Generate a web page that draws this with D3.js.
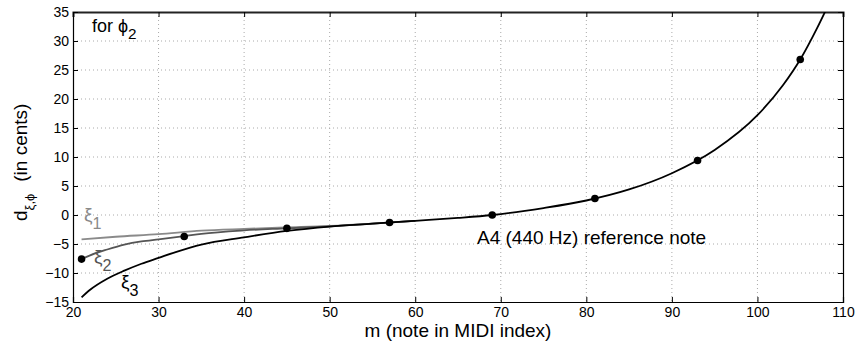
<!DOCTYPE html>
<html><head><meta charset="utf-8">
<script src="https://cdn.jsdelivr.net/npm/d3@7"></script>
<style>body{margin:0;background:#fff}svg{display:block;font-family:"Liberation Sans",Arial,sans-serif}</style>
</head><body><svg id="c" width="858" height="344"></svg>
<script>
const xTicks = [20,30,40,50,60,70,80,90,100,110];
const yTicks = [-15,-10,-5,0,5,10,15,20,25,30,35];
// xi_3 curve (full range)
const xi3M = [21,22,24,26,28,30,32,35,40,45,50,55,60,65,69,75,80,85,90,95,100,103,105,107,109];
const xi3D = [-14.2,-12.9,-11.0,-9.6,-8.4,-7.4,-6.4,-5.1,-3.85,-2.75,-2.0,-1.5,-1.0,-0.5,0,1.2,2.5,4.4,7.2,11.2,17.2,22.4,26.8,32.3,38.5];
// xi_2 curve
const xi2M = [21,22,24,26,28,30,33,35,40,45,50,55,60];
const xi2D = [-7.6,-6.95,-5.95,-5.1,-4.55,-4.2,-3.65,-3.25,-2.65,-2.3,-1.95,-1.5,-1.0];
// xi_1 curve
const xi1M = [21,25,30,35,40,45,50,55,60];
const xi1D = [-4.2,-3.75,-3.3,-2.7,-2.4,-2.15,-1.9,-1.5,-1.0];
// marked notes
const dotM = [21,33,45,57,69,81,93,105];
const dotD = [-7.6,-3.7,-2.3,-1.3,0,2.85,9.4,26.8];

const svg = d3.select("#c");
const L=73, R=843, T=12, B=302;
const x = d3.scaleLinear().domain([20,110]).range([L,R]);
const y = d3.scaleLinear().domain([-15,35]).range([B,T]);

// grid
const g = svg.append("g");
g.selectAll(".gx").data(xTicks.slice(1,-1)).enter().append("line")
 .attr("x1",d=>x(d)).attr("x2",d=>x(d)).attr("y1",T).attr("y2",B)
 .attr("stroke","#aaa").attr("stroke-width",1).attr("stroke-dasharray","1,3");
g.selectAll(".gy").data(yTicks.slice(1,-1)).enter().append("line")
 .attr("y1",d=>y(d)).attr("y2",d=>y(d)).attr("x1",L).attr("x2",R)
 .attr("stroke","#aaa").attr("stroke-width",1).attr("stroke-dasharray","1,3");

// axes
const fs = 14;
const bx = svg.append("g").attr("transform",`translate(0,${B})`)
 .call(d3.axisBottom(x).tickValues(xTicks).tickSize(-5).tickPadding(5).tickFormat(d3.format("d")));
const tx = svg.append("g").attr("transform",`translate(0,${T})`)
 .call(d3.axisTop(x).tickValues(xTicks).tickSize(-5).tickFormat(""));
const ly = svg.append("g").attr("transform",`translate(${L},0)`)
 .call(d3.axisLeft(y).tickValues(yTicks).tickSize(-5).tickPadding(4).tickFormat(d=>d<0?"\u2212"+(-d):d));
const ry = svg.append("g").attr("transform",`translate(${R},0)`)
 .call(d3.axisRight(y).tickValues(yTicks).tickSize(-5).tickFormat(""));
[bx,tx,ly,ry].forEach(a=>{
  a.selectAll("path").attr("stroke","#000").attr("stroke-width",1.2);
  a.selectAll("line").attr("stroke","#000");
  a.selectAll("text").attr("font-size",fs).attr("fill","#000").attr("font-family","Liberation Sans, Arial, sans-serif");
});
tx.select("path").attr("stroke-width",2).attr("stroke","#222");

// clip
svg.append("clipPath").attr("id","cp").append("rect").attr("x",L).attr("y",T).attr("width",R-L).attr("height",B-T);

const line = d3.line().x(d=>x(d[0])).y(d=>y(d[1])).curve(d3.curveMonotoneX);
const cg = svg.append("g").attr("clip-path","url(#cp)");
cg.append("path").datum(d3.zip(xi1M,xi1D)).attr("d",line).attr("fill","none").attr("stroke","#8a8a8a").attr("stroke-width",1.8);
cg.append("path").datum(d3.zip(xi2M,xi2D)).attr("d",line).attr("fill","none").attr("stroke","#555").attr("stroke-width",1.8);
cg.append("path").datum(d3.zip(xi3M,xi3D)).attr("d",line).attr("fill","none").attr("stroke","#000").attr("stroke-width",1.8);
cg.selectAll(".dot").data(d3.zip(dotM,dotD)).enter().append("circle")
 .attr("cx",d=>x(d[0])).attr("cy",d=>y(d[1])).attr("r",3.8).attr("fill","#000");

// curve labels
function sub(xp,yp,main,s,col,size){
  const t = svg.append("text").attr("x",xp).attr("y",yp).attr("fill",col).attr("font-size",size);
  t.append("tspan").text(main);
  t.append("tspan").attr("dy",size*0.4).attr("font-size",size*0.85).text(s);
  return t;
}
sub(84,221,"\u03be","1","#8a8a8a",19);
sub(94,263,"\u03be","2","#555",19);
sub(121,288,"\u03be","3","#000",19);

// annotations
sub(92,32,"for \u03d5","2","#000",18);
svg.append("text").attr("x",477).attr("y",244).attr("font-size",19).attr("fill","#000").text("A4 (440 Hz) reference note");

// axis titles
svg.append("text").attr("x",458).attr("y",337).attr("text-anchor","middle").attr("font-size",19).text("m (note in MIDI index)");
const yl = svg.append("text").attr("transform","translate(27,221) rotate(-90)").attr("font-size",19);
yl.append("tspan").text("d");
yl.append("tspan").attr("dy",7).attr("font-size",13).text("\u03be,\u03d5");
yl.append("tspan").attr("dy",-7).attr("dx",12).text("(in cents)");
</script></body></html>
